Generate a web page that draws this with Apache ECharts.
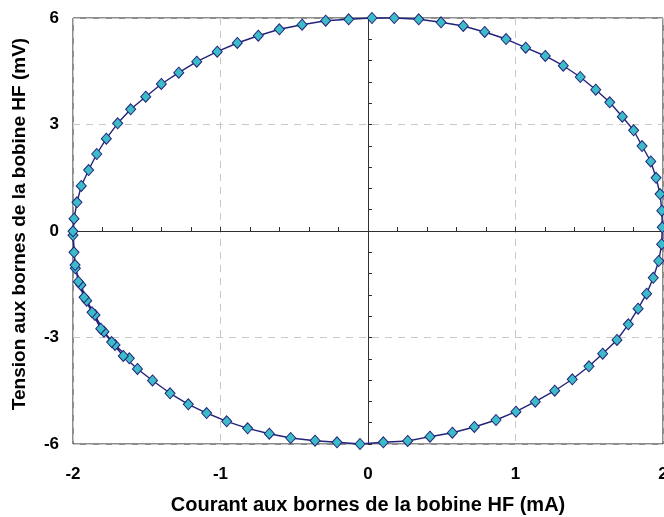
<!DOCTYPE html>
<html>
<head>
<meta charset="utf-8">
<script src="https://cdn.jsdelivr.net/npm/echarts@6/dist/echarts.min.js"></script>
<style>
  html, body { margin: 0; padding: 0; background: #fff; }
  #chart { width: 664px; height: 517px; }
</style>
</head>
<body>
<div id="chart"></div>
<script>
// Courant (mA) et tension (mV) relevés aux bornes de la bobine HF, dans l'ordre d'acquisition
const currentMA = [
  -1.618, -1.715, -1.790, -1.851, -1.907, -1.946, -1.984, -1.993, -2.000, -1.993,
  -1.973, -1.944, -1.894, -1.839, -1.774, -1.697, -1.609, -1.507, -1.401, -1.283,
  -1.161, -1.022, -0.886, -0.744, -0.601, -0.447, -0.287, -0.131, 0.027, 0.178,
  0.344, 0.495, 0.646, 0.791, 0.936, 1.069, 1.202, 1.324, 1.439, 1.544,
  1.639, 1.724, 1.801, 1.858, 1.917, 1.953, 1.980, 1.992, 1.995, 1.991,
  1.971, 1.934, 1.889, 1.831, 1.765, 1.688, 1.591, 1.498, 1.385, 1.266,
  1.134, 1.003, 0.868, 0.721, 0.572, 0.420, 0.269, 0.104, -0.054, -0.210,
  -0.359, -0.524, -0.669, -0.816, -0.958, -1.094, -1.218, -1.342, -1.461, -1.563,
  -1.659, -1.738, -1.812, -1.871, -1.925, -1.964, -1.986, -2.000
];
const voltageMV = [
  -3.586, -3.211, -2.837, -2.366, -1.963, -1.521, -1.051, -0.600, -0.121, 0.346,
  0.808, 1.268, 1.718, 2.169, 2.600, 3.034, 3.428, 3.783, 4.141, 4.459,
  4.769, 5.051, 5.296, 5.501, 5.682, 5.811, 5.924, 5.963, 6.000, 6.000,
  5.963, 5.879, 5.775, 5.606, 5.408, 5.163, 4.930, 4.656, 4.338, 3.980,
  3.625, 3.220, 2.837, 2.394, 1.958, 1.499, 1.042, 0.572, 0.104, -0.372,
  -0.845, -1.318, -1.766, -2.189, -2.628, -3.070, -3.456, -3.811, -4.177, -4.499,
  -4.808, -5.090, -5.324, -5.521, -5.682, -5.794, -5.915, -5.952, -6.000, -5.952,
  -5.907, -5.831, -5.710, -5.558, -5.361, -5.127, -4.882, -4.572, -4.211, -3.887,
  -3.521, -3.127, -2.752, -2.290, -1.868, -1.428, -0.958, -0.008
];

// Graduations des axes
const xTicks = [-2, -1, 0, 1, 2];
const yTicks = [-6, -3, 0, 3, 6];

const xTitle = 'Courant aux bornes de la bobine HF (mA)';
const yTitle = 'Tension aux bornes de la bobine HF (mV)';

const points = currentMA.map((x, i) => [x, voltageMV[i]]);

const FONT = '"Liberation Sans", Arial, sans-serif';
const labelStyle = { color: '#000', fontFamily: FONT, fontWeight: 'bold', fontSize: 17 };
const dashed = { show: true, lineStyle: { color: '#c8c8c8', type: [7, 6], width: 1 } };

const chart = echarts.init(document.getElementById('chart'), null, { renderer: 'canvas' });
chart.setOption({
  animation: false,
  backgroundColor: '#fff',
  grid: {
    left: 73, right: 1, top: 18, bottom: 73,
    outerBoundsMode: 'none', containLabel: false,
    show: true, borderColor: '#1a1a1a', borderWidth: 1, backgroundColor: 'transparent'
  },
  // Titre de l'axe vertical
  graphic: [{
    type: 'text',
    x: 20, y: 224,
    rotation: Math.PI / 2,
    style: {
      text: yTitle, align: 'center', verticalAlign: 'middle',
      fill: '#000', font: 'bold 19px "Liberation Sans", Arial, sans-serif'
    }
  }],
  xAxis: [
    {
      type: 'value', position: 'bottom',
      min: xTicks[0], max: xTicks[xTicks.length - 1], interval: 1,
      axisLine: { show: false }, axisTick: { show: false },
      splitLine: dashed,
      axisLabel: Object.assign({ margin: 22, showMinLabel: true, showMaxLabel: true }, labelStyle),
      name: xTitle, nameLocation: 'middle', nameGap: 51,
      nameTextStyle: { color: '#000', fontFamily: FONT, fontWeight: 'bold', fontSize: 20 }
    },
    {
      type: 'value', position: 'bottom',
      min: xTicks[0], max: xTicks[xTicks.length - 1], interval: 0.2,
      axisLine: { show: true, onZero: true, onZeroAxisIndex: 0, lineStyle: { color: '#303030', width: 1 } },
      axisTick: { show: true, inside: true, length: 4, lineStyle: { color: '#303030' } },
      axisLabel: { show: false }, splitLine: { show: false }
    }
  ],
  yAxis: [
    {
      type: 'value', position: 'left',
      min: yTicks[0], max: yTicks[yTicks.length - 1], interval: 3,
      axisLine: { show: false }, axisTick: { show: false },
      splitLine: dashed,
      axisLabel: Object.assign({ margin: 14 }, labelStyle)
    },
    {
      type: 'value', position: 'left',
      min: yTicks[0], max: yTicks[yTicks.length - 1], interval: 0.6,
      axisLine: { show: true, onZero: true, onZeroAxisIndex: 0, lineStyle: { color: '#303030', width: 1 } },
      axisTick: { show: true, inside: true, length: 4, lineStyle: { color: '#303030' } },
      axisLabel: { show: false }, splitLine: { show: false }
    }
  ],
  series: [{
    type: 'line',
    xAxisIndex: 0, yAxisIndex: 0,
    data: points,
    clip: false,
    smooth: false,
    showAllSymbol: true,
    symbol: 'diamond',
    symbolSize: [10, 11],
    lineStyle: { color: '#23237a', width: 1.4 },
    itemStyle: { color: '#3cbcc8', borderColor: '#23237a', borderWidth: 1 },
    z: 5
  }]
});
</script>
</body>
</html>
